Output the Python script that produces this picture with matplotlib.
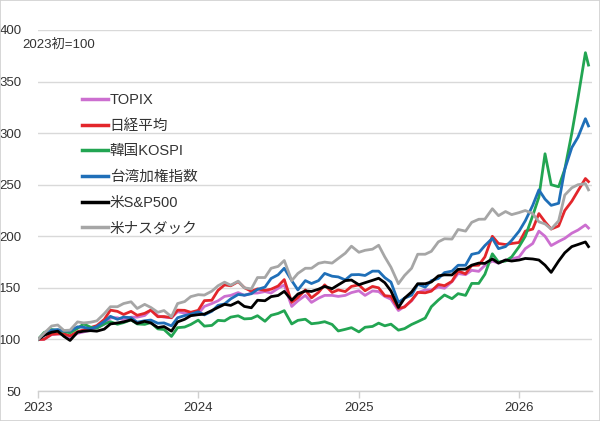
import matplotlib
matplotlib.use("Agg")
import matplotlib.pyplot as plt
import matplotlib.dates as mdates
import pandas as pd
from matplotlib.patches import Rectangle

plt.rcParams['font.family'] = ['Liberation Sans', 'Noto Sans CJK JP', 'DejaVu Sans']

# semi-monthly sampling dates (1st and 15th), plus final week
dates = list(pd.date_range('2023-01-01', '2026-06-01', freq='SMS')) + [pd.Timestamp('2026-06-08')]

labels = ['TOPIX', '日経平均', '韓国KOSPI', '台湾加権指数', '米S&P500', '米ナスダック']
colors = ['#CC6FD0', '#E3262B', '#22A552', '#1F6FB8', '#000000', '#A6A6A6']

topix = [100, 100.2, 104.7, 105.2, 105.7, 102, 105.9, 107.3, 109, 111.5, 114.7, 121, 121, 119, 121.6, 121.6, 123.2, 128.5, 122.8, 121.6, 121, 126.9, 125.5, 126,
         125, 132, 134.8, 137.4, 141.7, 142.7, 145.4, 142.7, 144.8, 145, 146.4, 145, 149.6, 152.8, 132, 137.4, 142.7, 135.9, 140, 142.7, 142.7, 141.7, 142.7, 145.4,
         147.2, 142.7, 147, 146.4, 141.7, 139, 128, 132, 137.4, 145.4, 148, 148, 150.7, 149.6, 156, 163.9, 162.8, 167, 166, 171.8,
         176, 174, 177, 178, 180, 188, 193, 205, 200, 191, 195, 198, 203, 206, 211, 208]

nikkei = [100, 100.1, 105, 105.4, 105.4, 103.5, 107.5, 109.2, 111.5, 113.4, 119.4, 128.4, 127.2, 124.2, 127.2, 123.4, 125.3, 128.4, 122, 122.2, 121.1, 128.4, 128.2, 126.3,
          128.2, 137.6, 138, 147.5, 152.9, 152, 156, 150.2, 146.7, 149, 147.5, 148.7, 151.8, 158, 136, 140.6, 148, 140.3, 145.6, 152.9, 145.6, 148, 146.4, 151.4,
          152.9, 147.2, 151.4, 150, 142.4, 141.8, 130, 131.4, 138, 145.6, 145.2, 146.8, 153.3, 152.1, 156.3, 166.3, 163.6, 171.7, 172, 180,
          200, 193, 192, 193, 194, 205, 207, 222, 214, 207, 210, 225, 234, 244, 256, 253]

kospi = [100, 106.7, 109.6, 108.7, 107.8, 106.4, 110.7, 115, 111.8, 110.9, 115, 117.2, 114.7, 116.3, 119, 115, 114.6, 116.3, 110.2, 109.6, 102.9, 111.4, 112, 114.5,
         118.7, 112.9, 113.6, 118.5, 118, 121.6, 122.9, 119.9, 120.3, 123, 117.6, 123.4, 125.2, 127.9, 115, 118.5, 119.6, 115.2, 116, 117.2, 114.5, 108.2, 109.8, 111.4,
         107.3, 111.8, 112.6, 115.8, 113.2, 114.8, 109, 110.5, 114.5, 117.2, 120.7, 131.7, 138.2, 143.1, 139.5, 144.4, 142.7, 154.3, 154.3, 163.2,
         183, 175, 176, 180, 190, 200, 220, 238, 280, 250, 248, 265, 300, 334, 378, 366]

taiex = [100, 104.2, 108.9, 109.6, 108.2, 108.2, 112.2, 111.8, 110.2, 112.5, 117.4, 122.4, 119.5, 121.7, 121, 116.7, 118.1, 118.8, 115.7, 116, 113.2, 121, 123.1, 124.5,
         126.8, 123.8, 127.3, 133, 134.4, 139.3, 143.6, 142.9, 144.3, 148.5, 150.7, 159.1, 162.7, 169, 157, 148, 157, 154.2, 157, 164, 161.3, 160.6, 157.7, 162.7,
         162.9, 162, 166.2, 166.2, 159.9, 155.6, 136, 140, 142.9, 153.5, 150.7, 157, 159.1, 164.8, 166.2, 171.9, 171.9, 182.5, 184, 191,
         198, 188, 190, 196, 205, 215, 230, 245, 236, 230, 232, 265, 286, 296, 314, 307]

sp500 = [100, 104, 107, 108, 103, 99, 107, 108, 108.5, 108, 110, 115, 116, 117, 119, 115.5, 117.5, 116, 111.5, 112.5, 108, 117, 119.5, 123,
         124, 124.5, 128, 131, 134, 133, 136.5, 132, 130.7, 138, 137.5, 141.5, 142.6, 146.6, 138, 144, 147, 146.5, 148.7, 151.4, 149.2, 152.9, 157, 157.6,
         153, 155, 157.3, 159.3, 155, 147, 131, 140, 146, 154, 154, 155.7, 161.6, 162.6, 162.5, 168, 168.2, 172, 174, 173.7,
         178, 174, 177, 176, 177, 178.5, 178, 177, 172, 165, 176, 184, 190, 192, 194.5, 190]

nasdaq = [100, 106, 113, 114, 108.7, 109, 117, 116, 116.7, 118, 125, 131.7, 131.7, 134.8, 136.5, 130, 134, 131, 126.3, 128, 122, 134.8, 136.7, 141.5,
          143.4, 143, 146.8, 152, 155.5, 152.6, 156.5, 150, 149, 160, 160, 169, 170.8, 176.5, 157, 164, 169, 169, 173.8, 175, 174, 178.5, 183.6, 190.4,
          184.5, 186.4, 187.5, 191.3, 180, 170, 154, 162, 169, 182.6, 182.6, 185.4, 194.6, 197.6, 197.3, 206.6, 205, 213.5, 216.5, 216.6,
          226.7, 220, 224, 221, 223, 225, 222, 214, 212, 207, 215, 240, 247, 250, 251, 245]

series = [topix, nikkei, kospi, taiex, sp500, nasdaq]

W, H = 600, 421
fig = plt.figure(figsize=(W / 100, H / 100), dpi=100)
ax = fig.add_axes([38 / W, 1 - 391 / H, (592 - 38) / W, (391 - 30) / H])

for vals, lab, col in zip(series, labels, colors):
    ax.plot(dates, vals, color=col, lw=2.0, label=lab, solid_joinstyle='round')

ax.set_ylim(50, 400)
ax.set_yticks([50, 100, 150, 200, 250, 300, 350, 400])
ax.set_xlim(pd.Timestamp('2023-01-01'), pd.Timestamp('2026-06-16'))
ax.xaxis.set_major_locator(mdates.YearLocator())
ax.xaxis.set_major_formatter(mdates.DateFormatter('%Y'))

ax.grid(axis='y', color='#D9D9D9', lw=1)
ax.set_axisbelow(True)
for s in ['top', 'right', 'left']:
    ax.spines[s].set_visible(False)
ax.spines['bottom'].set_color('#D0D0D0')
ax.spines['bottom'].set_linewidth(1)
ax.tick_params(axis='y', length=0, labelsize=9.5, colors='#333333', pad=12)
ax.tick_params(axis='x', length=5, width=1, color='#D0D0D0', labelsize=9.5,
               labelcolor='#333333', pad=3)

ax.text(22 / W, 1 - 45 / H, '2023初=100', transform=fig.transFigure, fontsize=9.5,
        color='#333333', va='center', ha='left')

leg = ax.legend(loc='upper left', bbox_to_anchor=(82 / W, 1 - 93 / H),
                bbox_transform=fig.transFigure, frameon=False, fontsize=10.5,
                handlelength=1.75, handletextpad=0.15, labelspacing=0.8,
                borderaxespad=0, borderpad=0)
for line in leg.get_lines():
    line.set_linewidth(2.5)
for t in leg.get_texts():
    t.set_color('#333333')

fig.patches.append(Rectangle((0, 0), 1, 1, transform=fig.transFigure, fill=False,
                             edgecolor='#D0D0D0', lw=1.2))

fig.savefig('out.png', dpi=100)
